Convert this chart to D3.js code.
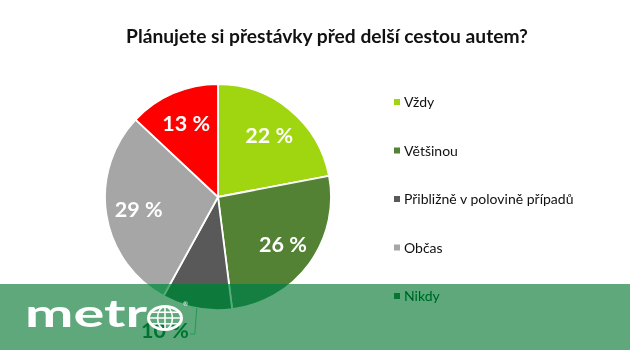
<!DOCTYPE html>
<html>
<head>
<meta charset="utf-8">
<script src="https://cdn.jsdelivr.net/npm/d3@7/dist/d3.min.js"></script>
<style>
  html, body { margin: 0; padding: 0; background: #fff; }
  svg { display: block; background: #fff; }
</style>
</head>
<body>
<svg id="chart" width="630" height="350"></svg>
<script>
// Survey answers and their shares (%)
const categories = ["Vždy", "Většinou", "Přibližně v polovině případů", "Občas", "Nikdy"];
const values = [22, 26, 10, 29, 13];
const palette = ["#9fd60f", "#548235", "#595959", "#a6a6a6", "#ff0000"];
const title = "Plánujete si přestávky před delší cestou autem?";

const W = 630, H = 350;
const svg = d3.select("#chart");
const font = "Lato, 'Open Sans', sans-serif";

svg.append("rect").attr("width", W).attr("height", H).attr("fill", "#fff");

// Title
svg.append("text")
  .attr("x", 327).attr("y", 43)
  .attr("text-anchor", "middle")
  .attr("font-family", font)
  .attr("font-weight", 700)
  .attr("font-size", 19.2)
  .attr("fill", "#111")
  .text(title);

// Pie
const cx = 218, cy = 197, R = 113;
const color = d3.scaleOrdinal().domain(categories).range(palette);
const pie = d3.pie().sort(null).value(d => d.value);
const arcs = pie(categories.map((c, i) => ({ cat: c, value: values[i] })));
const arc = d3.arc().innerRadius(0).outerRadius(R);
const labelArc = d3.arc().innerRadius(R * 0.71).outerRadius(R * 0.71);

const g = svg.append("g").attr("transform", `translate(${cx},${cy})`);
g.selectAll("path.slice")
  .data(arcs)
  .join("path")
  .attr("class", "slice")
  .attr("d", arc)
  .attr("fill", d => color(d.data.cat))
  .attr("stroke", "#fff")
  .attr("stroke-width", 1.8)
  .attr("stroke-linejoin", "round");

// Labels inside the larger slices, the small one goes outside with a leader
const insideMin = 12;
g.selectAll("text.inlabel")
  .data(arcs.filter(d => d.data.value >= insideMin))
  .join("text")
  .attr("class", "inlabel")
  .attr("transform", d => `translate(${labelArc.centroid(d)})`)
  .attr("text-anchor", "middle")
  .attr("dy", "0.36em")
  .attr("font-family", font)
  .attr("font-weight", 700)
  .attr("font-size", 21.5)
  .attr("fill", "#fff")
  .text(d => `${d.data.value} %`);

arcs.filter(d => d.data.value < insideMin).forEach(d => {
  const mid = (d.startAngle + d.endAngle) / 2;
  const ex = R * Math.sin(mid), ey = -R * Math.cos(mid);
  const by = R + 24;
  g.append("polyline")
    .attr("points", [[ex, ey], [ex - 2, by], [ex - 7, by]].map(p => p.join(",")).join(" "))
    .attr("fill", "none")
    .attr("stroke", "#a6a6a6")
    .attr("stroke-width", 1);
  g.append("text")
    .attr("x", ex - 8).attr("y", by + 4)
    .attr("text-anchor", "end")
    .attr("font-family", font)
    .attr("font-weight", 700)
    .attr("font-size", 21.5)
    .attr("fill", "#404040")
    .text(`${d.data.value} %`);
});

// Legend
const legendY = d3.scalePoint().domain(categories).range([102, 296]);
const lg = svg.append("g");
const item = lg.selectAll("g.item")
  .data(categories)
  .join("g")
  .attr("class", "item")
  .attr("transform", c => `translate(394,${legendY(c)})`);
item.append("rect")
  .attr("x", 0).attr("y", -3)
  .attr("width", 6).attr("height", 6)
  .attr("fill", c => color(c));
item.append("text")
  .attr("x", 10).attr("y", 0)
  .attr("dy", "0.36em")
  .attr("font-family", font)
  .attr("font-size", 14)
  .attr("fill", "#111")
  .text(c => c);

// Publisher band across the bottom: tints what lies beneath it green
const band = svg.append("g");
band.append("rect")
  .attr("x", 0).attr("y", 284)
  .attr("width", W).attr("height", H - 284)
  .attr("fill", "#2e8b57")
  .style("mix-blend-mode", "color");
band.append("rect")
  .attr("x", 0).attr("y", 284)
  .attr("width", W).attr("height", H - 284)
  .attr("fill", "rgb(5,120,52)")
  .attr("fill-opacity", 0.645);

band.append("text")
  .attr("x", 25).attr("y", 327)
  .attr("font-family", font)
  .attr("font-weight", 700)
  .attr("font-size", 38)
  .attr("textLength", 122)
  .attr("lengthAdjust", "spacingAndGlyphs")
  .attr("fill", "#fff")
  .text("metr");

// Globe standing in for the "o"
const gx = 165, gy = 318, grx = 16.5, gry = 11.5;
const globe = band.append("g").attr("fill", "none").attr("stroke", "#fff");
globe.append("ellipse").attr("cx", gx).attr("cy", gy).attr("rx", grx).attr("ry", gry).attr("stroke-width", 3);
globe.append("ellipse").attr("cx", gx).attr("cy", gy).attr("rx", grx * 0.45).attr("ry", gry).attr("stroke-width", 1.6);
globe.append("line").attr("x1", gx).attr("x2", gx).attr("y1", gy - gry).attr("y2", gy + gry).attr("stroke-width", 1.6);
[-0.5, 0, 0.5].forEach(f => {
  const yy = gy + f * gry;
  const half = grx * Math.sqrt(1 - f * f);
  globe.append("line").attr("x1", gx - half).attr("x2", gx + half).attr("y1", yy).attr("y2", yy).attr("stroke-width", 1.6);
});
band.append("text")
  .attr("x", 183).attr("y", 306)
  .attr("font-family", font)
  .attr("font-size", 6)
  .attr("fill", "#fff")
  .text("®");
</script>
</body>
</html>
